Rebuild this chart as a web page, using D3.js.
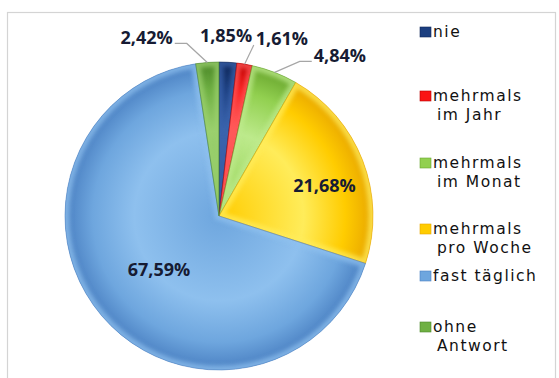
<!DOCTYPE html>
<html>
<head>
<meta charset="utf-8">
<script src="https://cdn.jsdelivr.net/npm/d3@7"></script>
<style>
  html, body { margin: 0; padding: 0; background: #ffffff; }
  svg { display: block; }
</style>
</head>
<body>
<script>
// Survey answers: how often? (share of respondents, %)
const categories = ["nie", "mehrmals im Jahr", "mehrmals im Monat", "mehrmals pro Woche", "fast täglich", "ohne Antwort"];
const values = [1.85, 1.61, 4.84, 21.68, 67.59, 2.42];
const legendLines = [["nie"], ["mehrmals", "im Jahr"], ["mehrmals", "im Monat"], ["mehrmals", "pro Woche"], ["fast täglich"], ["ohne", "Antwort"]];
const baseColors  = ["#1c3f80", "#fa1414", "#92d050", "#ffcc00", "#6ea6de", "#6fb043"];
const lightColors = ["#3a64ad", "#ff5a5a", "#bdea8c", "#ffec5a", "#8ec0ee", "#9bd06e"];
const darkColors  = ["#0f2657", "#b80000", "#69a62e", "#e8a600", "#4a80c2", "#4b8728"];

const W = 559, H = 378;
const cx = 219, cy = 216, R = 154;

// label layout: angular shift (deg) from the slice middle and radius factor
const labelShift = [-1.1, 10.0, 15.8, 5.0, -1.3, -17.7];
const labelRadius = [1.173, 1.22, 1.305, 0.713, 0.522, 1.251];
// legend first-line baselines
const legendY = [37, 101, 168, 234, 281, 332];

const fmt = v => d3.format(".2f")(v).replace(".", ",") + "%";

const svg = d3.select("body").append("svg").attr("width", W).attr("height", H);
const defs = svg.append("defs");

// chart frame
svg.append("rect")
  .attr("x", 7.5).attr("y", 12.5).attr("width", 548).attr("height", 400)
  .attr("fill", "#ffffff").attr("stroke", "#d4d4d4").attr("stroke-width", 1.2);

const pie = d3.pie().sort(null).value(d => d);
const arcs = pie(values);
const arc = d3.arc().innerRadius(0).outerRadius(R);

defs.append("filter").attr("id", "soft")
  .append("feGaussianBlur").attr("stdDeviation", 2.2);

const g = svg.append("g").attr("transform", `translate(${cx},${cy})`);

arcs.forEach((a, i) => {
  const grad = defs.append("radialGradient")
    .attr("id", "rg" + i).attr("gradientUnits", "userSpaceOnUse")
    .attr("cx", 0).attr("cy", 0).attr("r", R);
  grad.append("stop").attr("offset", "0%").attr("stop-color", baseColors[i]);
  grad.append("stop").attr("offset", "55%").attr("stop-color", lightColors[i]);
  grad.append("stop").attr("offset", "82%").attr("stop-color", baseColors[i]);
  grad.append("stop").attr("offset", "100%").attr("stop-color", darkColors[i]);

  defs.append("clipPath").attr("id", "cp" + i)
    .append("path").attr("d", arc(a)).attr("transform", `translate(${cx},${cy})`);
});

arcs.forEach((a, i) => {
  g.append("path").attr("d", arc(a)).attr("fill", `url(#rg${i})`);
  // soft inner bevel along the slice edges
  svg.append("g").attr("clip-path", `url(#cp${i})`)
    .append("path").attr("d", arc(a))
    .attr("transform", `translate(${cx},${cy})`)
    .attr("fill", "none").attr("stroke", lightColors[i])
    .attr("stroke-width", 9).attr("opacity", 0.75).attr("filter", "url(#soft)");
  svg.append("path").attr("d", arc(a))
    .attr("transform", `translate(${cx},${cy})`)
    .attr("fill", "none").attr("stroke", darkColors[i])
    .attr("stroke-width", 0.8).attr("stroke-opacity", 0.7);
});

// value labels
const lab = svg.append("g");
const polar = (ang, r) => [cx + r * Math.sin(ang), cy - r * Math.cos(ang)];
arcs.forEach((a, i) => {
  const mid = (a.startAngle + a.endAngle) / 2;
  const ang = mid + labelShift[i] * Math.PI / 180;
  const [lx, ly] = polar(ang, R * labelRadius[i]);
  const t = lab.append("text")
    .attr("x", lx).attr("y", ly + 6.5)
    .attr("text-anchor", "middle")
    .attr("font-family", "'Open Sans', sans-serif")
    .attr("font-weight", 700).attr("font-size", 18)
    .attr("fill", "#161b33")
    .text(fmt(values[i]));
  if (labelRadius[i] > 1) {
    const w = t.node().getComputedTextLength();
    const [ex, ey] = polar(mid, R);
    const left = lx - w / 2, right = lx + w / 2;
    if (ex >= left && ex <= right) return;
    const toRight = ex > right;
    const sx = toRight ? right + 2 : left - 2;
    const sy = ly + 6;
    const pts = [[sx, sy]];
    if (Math.abs(ex - sx) > 12) pts.push([sx + (toRight ? 12 : -12), sy]);
    pts.push([ex, ey]);
    lab.append("path").attr("d", d3.line()(pts))
      .attr("fill", "none").attr("stroke", "#a6a6a6").attr("stroke-width", 1.2);
  }
});

// legend: one text per entry, wrapped lines as tspans
const leg = svg.append("g");
legendLines.forEach((lines, i) => {
  const y = legendY[i];
  leg.append("rect")
    .attr("x", 420).attr("y", y - 10).attr("width", 11).attr("height", 10)
    .attr("fill", baseColors[i]).attr("stroke", darkColors[i]).attr("stroke-width", 0.6);
  const t = leg.append("text")
    .attr("font-family", "'DejaVu Sans', sans-serif")
    .attr("font-size", 15.5).attr("letter-spacing", 1.5)
    .attr("fill", "#111111");
  lines.forEach((ln, k) => {
    t.append("tspan")
      .attr("x", k === 0 ? 433 : 437).attr("y", y + k * 18.5)
      .text(ln);
  });
});
</script>
</body>
</html>
